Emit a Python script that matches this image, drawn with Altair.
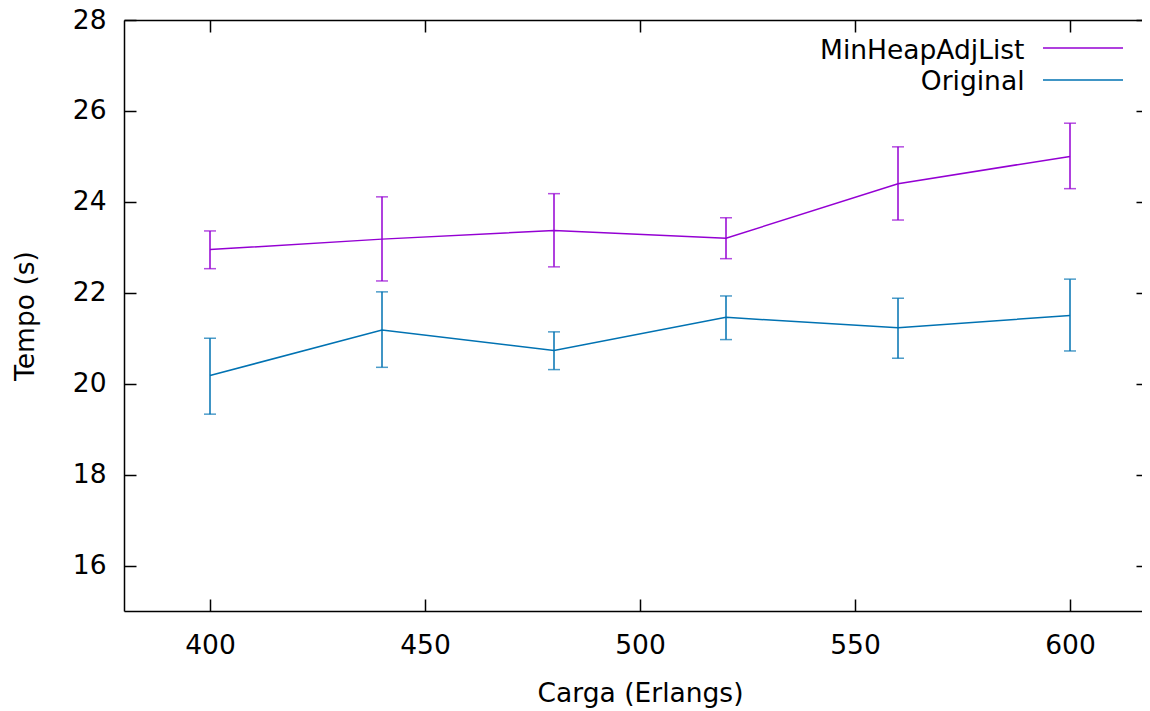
import altair as alt
import pandas as pd

# ---- data ----
carga = [400, 440, 480, 520, 560, 600]
series_names = ["MinHeapAdjList", "Original"]
series_colors = ["#9400d3", "#0072b2"]

minheap_mean = [22.95, 23.18, 23.37, 23.20, 24.40, 25.00]
minheap_low = [22.53, 22.26, 22.57, 22.75, 23.60, 24.29]
minheap_high = [23.36, 24.11, 24.18, 23.65, 25.21, 25.73]

original_mean = [20.18, 21.18, 20.73, 21.46, 21.23, 21.50]
original_low = [19.33, 20.36, 20.31, 20.97, 20.56, 20.72]
original_high = [21.00, 22.02, 21.14, 21.93, 21.88, 22.30]

x_ticks = [400, 450, 500, 550, 600]
y_ticks = [16, 18, 20, 22, 24, 26, 28]

rows = []
for name, m, lo, hi in [
    ("MinHeapAdjList", minheap_mean, minheap_low, minheap_high),
    ("Original", original_mean, original_low, original_high),
]:
    for c, a, b, d in zip(carga, m, lo, hi):
        rows.append({"carga": c, "serie": name, "nome": name,
                     "tempo": a, "low": b, "high": d})
df = pd.DataFrame(rows)

FONT = "DejaVu Sans"
FS = 26.5
W, H = 1018, 591

x_scale = alt.Scale(domain=[380, 380 + W / 4.3], nice=False, zero=False)
y_scale = alt.Scale(domain=[15, 28], nice=False, zero=False)
color_scale = alt.Scale(domain=series_names, range=series_colors)

# gnuplot-style key: line samples (colour legend) + right-aligned names (opacity legend)
symbol_legend = alt.Legend(
    title=None,
    orient="none",
    legendX=918,
    legendY=27,
    symbolType="stroke",
    symbolSize=6400,
    symbolStrokeWidth=1.5,
    labelExpr="''",
    clipHeight=2,
    rowPadding=22,
    padding=0,
)
label_legend = alt.Legend(
    title=None,
    orient="none",
    legendX=870,
    legendY=30,
    symbolType="circle",
    symbolSize=1,
    symbolOpacity=0,
    symbolStrokeWidth=0,
    labelAlign="right",
    labelBaseline="middle",
    labelFont=FONT,
    labelFontSize=FS,
    labelColor="black",
    labelLimit=0,
    clipHeight=2,
    rowPadding=4,
    padding=0,
)

# axes
ax_x_main = alt.Axis(
    orient="bottom", values=x_ticks, title="Carga (Erlangs)", tickSize=0,
    labelPadding=21, domain=True, domainColor="black", domainWidth=1.5,
    labelFont=FONT, labelFontSize=FS, labelColor="black",
    titleFont=FONT, titleFontSize=FS, titleFontWeight="normal", titleColor="black",
    titleX=516, titleY=90, titleBaseline="alphabetic", titleAlign="center", grid=False,
)
ax_y_main = alt.Axis(
    orient="left", values=y_ticks, title="Tempo (s)", tickSize=0,
    labelPadding=18, domain=True, domainColor="black", domainWidth=1.5,
    labelFont=FONT, labelFontSize=FS, labelColor="black",
    titleFont=FONT, titleFontSize=FS, titleFontWeight="normal", titleColor="black",
    titleX=-91, titleY=H / 2, titleAngle=270, titleBaseline="alphabetic",
    titleAlign="center", grid=False,
)
ax_x_in_bottom = alt.Axis(
    orient="bottom", values=x_ticks, offset=-12, tickSize=12, tickWidth=1.5,
    tickColor="black", labels=False, domain=False, title=None, grid=False,
)
ax_y_in_left = alt.Axis(
    orient="left", values=y_ticks, offset=-12, tickSize=12, tickWidth=1.5,
    tickColor="black", labels=False, domain=False, title=None, grid=False,
)
ax_x_in_top = alt.Axis(
    orient="top", values=x_ticks, offset=-12, tickSize=12, tickWidth=1.5,
    tickColor="black", labels=False, domain=False, title=None, grid=False,
)
ax_y_in_right = alt.Axis(
    orient="right", values=y_ticks, offset=-6, tickSize=6, tickWidth=1.5,
    tickColor="black", labels=False, domain=False, title=None, grid=False,
)
ax_x_top_border = alt.Axis(
    orient="top", values=x_ticks, ticks=False, labels=False, domain=True,
    domainColor="black", domainWidth=1.5, title=None, grid=False,
)

base = alt.Chart(df)

lines = base.mark_line(strokeWidth=1.5).encode(
    x=alt.X("carga:Q", scale=x_scale, axis=ax_x_main),
    y=alt.Y("tempo:Q", scale=y_scale, axis=ax_y_main),
    color=alt.Color("serie:N", scale=color_scale, legend=symbol_legend),
    opacity=alt.Opacity("nome:N", scale=alt.Scale(range=[1, 1]), legend=label_legend),
)

bars = base.mark_rule(strokeWidth=1.5).encode(
    x=alt.X("carga:Q", scale=x_scale, axis=ax_x_in_bottom),
    y=alt.Y("low:Q", scale=y_scale, axis=ax_y_in_left),
    y2="high:Q",
    color=alt.Color("serie:N", scale=color_scale, legend=None),
)

caps_low = base.mark_tick(orient="horizontal", size=12, thickness=1.5).encode(
    x=alt.X("carga:Q", scale=x_scale, axis=ax_x_in_top),
    y=alt.Y("low:Q", scale=y_scale, axis=ax_y_in_right),
    color=alt.Color("serie:N", scale=color_scale, legend=None),
)

caps_high = base.mark_tick(orient="horizontal", size=12, thickness=1.5).encode(
    x=alt.X("carga:Q", scale=x_scale, axis=ax_x_top_border),
    y=alt.Y("high:Q", scale=y_scale, axis=None),
    color=alt.Color("serie:N", scale=color_scale, legend=None),
)

chart = (
    alt.layer(lines, bars, caps_low, caps_high)
    .resolve_axis(x="independent", y="independent")
    .properties(
        width=W,
        height=H,
        autosize=alt.AutoSizeParams(type="none"),
        padding={"left": 116, "top": 12, "right": 0, "bottom": 99},
        background="white",
    )
    .configure_view(stroke="transparent")
)

chart.save("out.html", embed_options={"renderer": "svg", "actions": False})
